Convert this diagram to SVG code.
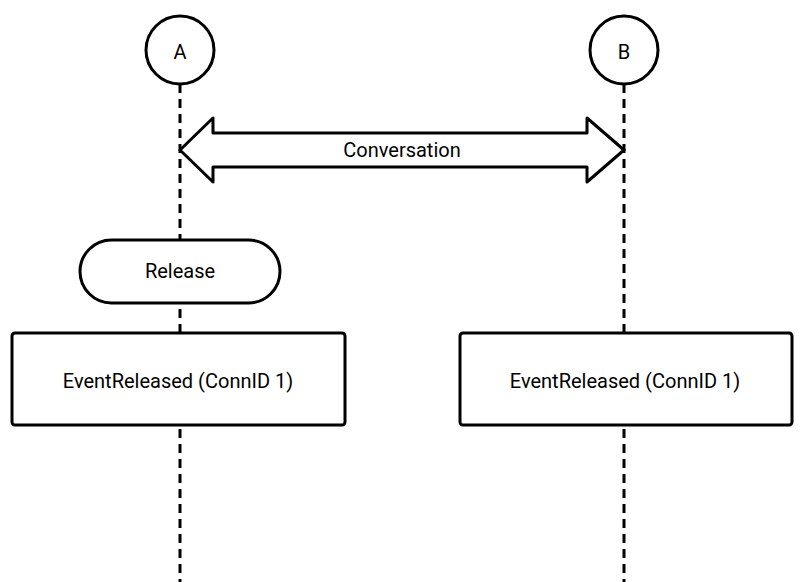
<svg xmlns="http://www.w3.org/2000/svg" width="800" height="582" viewBox="0 0 800 582">
<style>
.s{fill:#fff;stroke:#000;stroke-width:3}
.l{stroke:#000;stroke-width:3;stroke-dasharray:9 6;fill:none}
text{font-family:Roboto,"Liberation Sans",sans-serif;font-size:20px;fill:#000;text-anchor:middle;dominant-baseline:central}
</style>
<rect width="800" height="582" fill="#fff"/>
<g id="lifelines">
<line class="l" x1="180" y1="84" x2="180" y2="582"/>
<line class="l" x1="624" y1="84" x2="624" y2="582"/>
</g>
<g id="A"><circle class="s" cx="180" cy="50" r="34"/><text x="180" y="52">A</text></g>
<g id="B"><circle class="s" cx="624" cy="50" r="34"/><text x="624" y="52">B</text></g>
<g id="connectors">
<path class="s" stroke-linejoin="round" d="M180 150 L213 118 L213 133 L587 133 L587 118 L624 150 L587 182 L587 167 L213 167 L213 182 Z"/>
<text x="402" y="150">Conversation</text>
</g>
<g id="release"><rect class="s" x="80" y="240" width="200" height="63" rx="31.5"/><text x="180" y="271">Release</text></g>
<g id="evA"><rect class="s" x="12" y="333" width="333" height="92" rx="3"/><text x="178" y="381">EventReleased (ConnID 1)</text></g>
<g id="evB"><rect class="s" x="460" y="333" width="332" height="92" rx="3"/><text x="625" y="381">EventReleased (ConnID 1)</text></g>
</svg>
